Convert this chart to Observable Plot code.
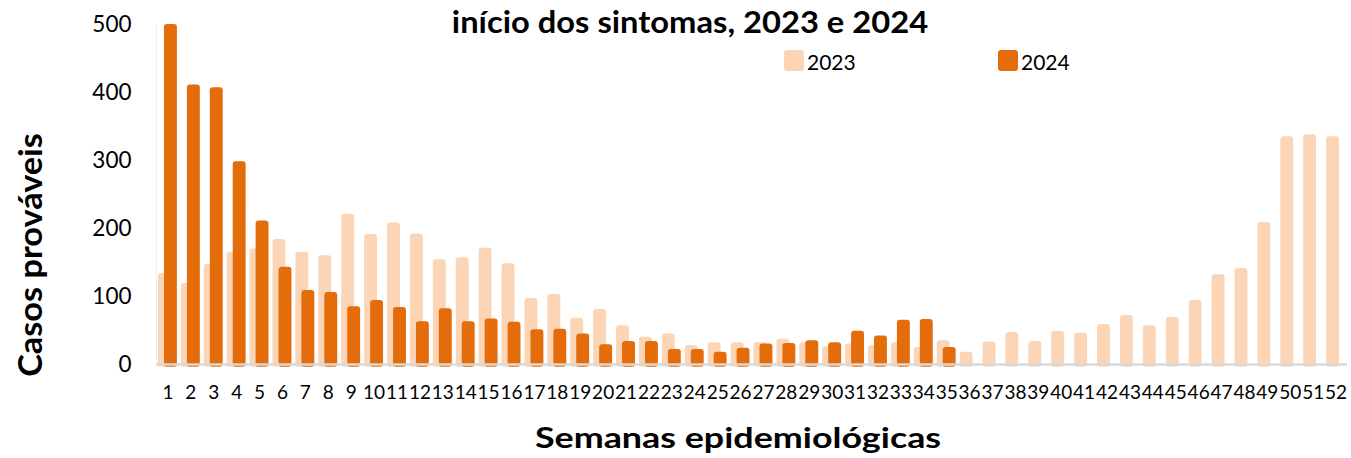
<!DOCTYPE html>
<html>
<head>
<meta charset="utf-8">
<script src="https://cdn.jsdelivr.net/npm/d3@7"></script>
<script src="https://cdn.jsdelivr.net/npm/@observablehq/plot@0.6"></script>
<style>
  html, body { margin: 0; padding: 0; background: #fff; }
  #wrap { position: relative; width: 1351px; height: 458px; overflow: hidden; font-family: Lato, "Open Sans", sans-serif; color: #000; }
  #chart { position: absolute; left: 0; top: 0; }
  .abs { position: absolute; white-space: nowrap; line-height: 1; }
  #title { font-weight: 700; font-size: 30px; left: 690px; top: 6px; transform: translateX(-50%) scaleX(1.09); }
  #ylab { font-weight: 700; font-size: 33px; left: 29px; top: 255px; transform: translate(-50%, -50%) rotate(-90deg) scaleX(1.04); }
  #xlab { font-weight: 700; font-size: 28px; left: 738px; top: 423px; transform: translateX(-50%) scaleX(1.28); }
  .sw { position: absolute; width: 20px; height: 21px; border-radius: 3px; }
  .lt { position: absolute; font-size: 21px; line-height: 1; }
</style>
</head>
<body>
<div id="wrap">
  <div id="chart"></div>
  <div id="title" class="abs">início dos sintomas, 2023 e 2024</div>
  <div id="ylab" class="abs">Casos prováveis</div>
  <div id="xlab" class="abs">Semanas epidemiológicas</div>
  <div class="sw" style="left:784px;top:50px;background:#FBD5B5"></div>
  <div class="lt" style="left:807px;top:51px">2023</div>
  <div class="sw" style="left:998px;top:50px;background:#E46C0A"></div>
  <div class="lt" style="left:1021px;top:51px">2024</div>
</div>
<script>
const weeks = [1,2,3,4,5,6,7,8,9,10,11,12,13,14,15,16,17,18,19,20,21,22,23,24,25,26,27,28,29,30,31,32,33,34,35,36,37,38,39,40,41,42,43,44,45,46,47,48,49,50,51,52];
const weeks2024 = [1,2,3,4,5,6,7,8,9,10,11,12,13,14,15,16,17,18,19,20,21,22,23,24,25,26,27,28,29,30,31,32,33,34,35];
const cases2023 = [134,119,147,165,170,184,165,160,221,191,208,192,154,157,171,148,97,103,68,81,57,40,45,28,32,32,32,37,32,26,30,28,32,25,35,18,33,47,34,49,46,59,72,57,69,94,132,141,209,335,338,335];
const cases2024 = [500,411,407,298,211,143,109,106,85,94,84,63,82,63,67,62,51,52,45,29,34,34,22,22,18,24,30,31,35,32,49,42,65,66,25];
const yTicks = [0,100,200,300,400,500];

const d2023 = weeks.map((w, i) => ({week: w, value: cases2023[i]}));
const d2024 = weeks2024.map((w, i) => ({week: w, value: cases2024[i]}));

const chart = Plot.plot({
  width: 1351,
  height: 458,
  marginTop: 24,
  marginBottom: 94,
  marginLeft: 156,
  marginRight: 4,
  style: {fontFamily: "Lato, 'Open Sans', sans-serif", color: "#000", background: "#fff"},
  x: {type: "band", domain: weeks, padding: 0, label: null},
  y: {domain: [0, 500], label: null},
  marks: [
    Plot.frame({anchor: "left", stroke: "#EEEEEE"}),
    Plot.barY(d2023, {x: "week", y1: -4, y2: "value", fill: "#FBD5B5", insetLeft: 5, insetRight: 5, dx: -3, rx: 3}),
    Plot.barY(d2024, {x: "week", y1: -4, y2: "value", fill: "#E46C0A", insetLeft: 5, insetRight: 5, dx: 3, rx: 3}),
    Plot.ruleY([0], {stroke: "#D9D9D9", strokeWidth: 2.5}),
    Plot.axisY({ticks: yTicks, tickSize: 0, tickPadding: 25, fontSize: 22.5, label: null}),
    Plot.axisX({tickSize: 0, tickPadding: 21, fontSize: 19, label: null})
  ]
});
document.getElementById("chart").appendChild(chart);
</script>
</body>
</html>
